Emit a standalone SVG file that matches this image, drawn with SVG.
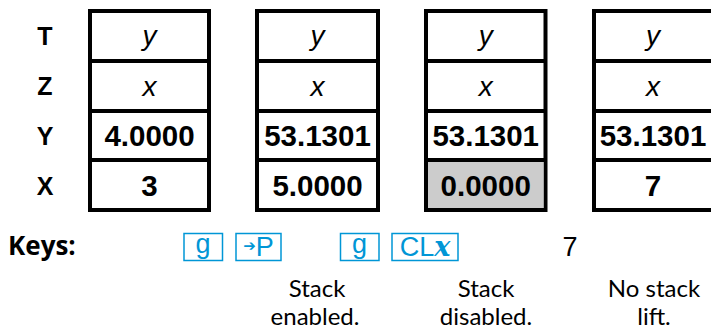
<svg xmlns="http://www.w3.org/2000/svg" width="711" height="331" viewBox="0 0 711 331">
<style>
.box{fill:#fff;stroke:#000;stroke-width:4}
.div{stroke:#000;stroke-width:4}
.lbl{font-family:"Liberation Sans",Arial,sans-serif;font-weight:bold;font-size:25px;text-anchor:middle;fill:#000}
.it{font-family:"Liberation Sans",Arial,sans-serif;font-style:italic;font-size:28px;text-anchor:middle;fill:#000}
.val{font-family:"Liberation Sans",Arial,sans-serif;font-weight:bold;font-size:29.5px;text-anchor:middle;fill:#000}
.key{fill:#fff;stroke:#0096d6;stroke-width:1.5}
.kt{font-family:"Liberation Sans",Arial,sans-serif;font-size:27px;fill:#0096d6;text-anchor:middle}
.cap{font-family:Lato,"Open Sans",sans-serif;font-size:24px;fill:#000;text-anchor:middle}
</style>
<g id="labels">
<text class="lbl" x="45" y="45">T</text>
<text class="lbl" x="45" y="95">Z</text>
<text class="lbl" x="45" y="145">Y</text>
<text class="lbl" x="45" y="195">X</text>
</g>
<g id="stack1">
<rect class="box" x="90" y="11" width="119" height="199"/>
<line class="div" x1="90" y1="61" x2="209" y2="61"/>
<line class="div" x1="90" y1="111" x2="209" y2="111"/>
<line class="div" x1="90" y1="160" x2="209" y2="160"/>
<text class="it" x="149.5" y="45">y</text>
<text class="it" x="149.5" y="96">x</text>
<text class="val" x="149.5" y="146">4.0000</text>
<text class="val" x="149.5" y="196">3</text>
</g>
<g id="stack2">
<rect class="box" x="257" y="11" width="121" height="199"/>
<line class="div" x1="257" y1="61" x2="378" y2="61"/>
<line class="div" x1="257" y1="111" x2="378" y2="111"/>
<line class="div" x1="257" y1="160" x2="378" y2="160"/>
<text class="it" x="317.5" y="45">y</text>
<text class="it" x="317.5" y="96">x</text>
<text class="val" x="317.5" y="146">53.1301</text>
<text class="val" x="317.5" y="196">5.0000</text>
</g>
<g id="stack3">
<rect class="box" x="426" y="11" width="119.5" height="199"/>
<rect x="428" y="162" width="115.5" height="46" fill="#cccccc"/>
<line class="div" x1="426" y1="61" x2="545.5" y2="61"/>
<line class="div" x1="426" y1="111" x2="545.5" y2="111"/>
<line class="div" x1="426" y1="160" x2="545.5" y2="160"/>
<text class="it" x="485.7" y="45">y</text>
<text class="it" x="485.7" y="96">x</text>
<text class="val" x="485.7" y="146">53.1301</text>
<text class="val" x="485.7" y="196">0.0000</text>
</g>
<g id="stack4">
<rect class="box" x="594" y="11" width="121" height="199"/>
<line class="div" x1="594" y1="61" x2="715" y2="61"/>
<line class="div" x1="594" y1="111" x2="715" y2="111"/>
<line class="div" x1="594" y1="160" x2="715" y2="160"/>
<text class="it" x="653" y="45">y</text>
<text class="it" x="653" y="96">x</text>
<text class="val" x="653" y="146">53.1301</text>
<text class="val" x="653" y="196">7</text>
</g>
<g id="keys">
<text x="8" y="255" font-family="'Open Sans','Noto Sans',sans-serif" font-weight="bold" font-size="26" fill="#000">Keys:</text>
<rect class="key" x="184" y="233.5" width="38.5" height="27"/>
<text class="kt" x="203" y="253">g</text>
<rect class="key" x="236" y="233.5" width="45" height="27"/>
<text class="kt" x="258.5" y="256"><tspan font-family="'DejaVu Sans',sans-serif" font-size="15" dy="-5">➔</tspan><tspan dy="5">P</tspan></text>
<rect class="key" x="340.5" y="233.5" width="38.5" height="27"/>
<text class="kt" x="359.5" y="253">g</text>
<rect class="key" x="392" y="233.5" width="66" height="27"/>
<text class="kt" x="425" y="256">CL<tspan font-family="'DejaVu Serif',serif" font-style="italic" font-weight="bold">x</tspan></text>
<text x="570" y="256" font-family="'Liberation Sans',Arial,sans-serif" font-size="27" fill="#000" text-anchor="middle">7</text>
</g>
<g id="captions">
<text class="cap" x="317" y="297">Stack</text>
<text class="cap" x="315" y="325">enabled.</text>
<text class="cap" x="486" y="297">Stack</text>
<text class="cap" x="486" y="325">disabled.</text>
<text class="cap" x="654" y="297">No stack</text>
<text class="cap" x="654" y="325">lift.</text>
</g>
</svg>
